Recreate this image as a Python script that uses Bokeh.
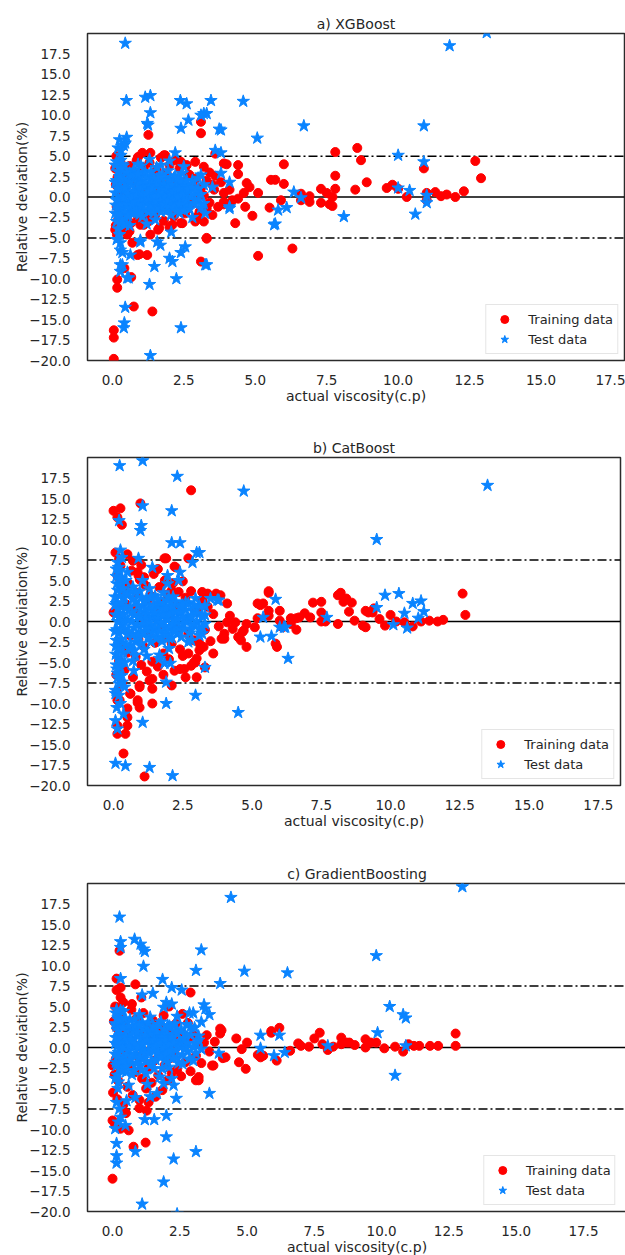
from bokeh.plotting import figure
from bokeh.layouts import column
from bokeh.models import Span, Legend, LegendItem, FixedTicker, Range1d, PrintfTickFormatter
from bokeh.embed import file_html
from bokeh.resources import INLINE

# ---------------- data ----------------
TITLES = ["a) XGBoost", "b) CatBoost", "c) GradientBoosting"]
X_LABEL = "actual viscosity(c.p)"
Y_LABEL = "Relative deviation(%)"
X_TICKS = [0.0, 2.5, 5.0, 7.5, 10.0, 12.5, 15.0, 17.5]
Y_TICKS = [-20.0, -17.5, -15.0, -12.5, -10.0, -7.5, -5.0, -2.5, 0.0,
           2.5, 5.0, 7.5, 10.0, 12.5, 15.0, 17.5]
BANDS = [5.0, 7.5, 7.5]
LEGEND_LABELS = ["Training data", "Test data"]

# a) XGBoost : training (x, deviation)
xgb_train = [
    (0.05, -19.8), (0.05, -17.2), (0.05, -16.3), (0.17, -11.1), (0.17, -10.1), (0.75, -13.4),
    (1.4, -14.0), (0.66, -9.8), (0.42, -8.7), (0.88, -7.1), (1.22, -7.1), (0.95, -7.0),
    (0.7, -5.6), (3.1, -7.9), (3.3, -5.1), (5.1, -7.2), (6.3, -6.3), (4.3, -3.2), (4.9, -2.3),
    (2.9, -3.0), (2.4, -3.2), (1.26, 7.6), (3.1, 9.2), (3.1, 7.8), (1.05, 5.4), (1.33, 5.4),
    (1.85, 5.1), (2.4, 4.3), (0.77, 2.9), (0.94, 3.0), (0.28, 4.3), (0.1, 3.5), (0.35, 0.0),
    (0.38, -3.8), (0.1, -4.0), (0.52, -4.6), (0.98, -3.4), (1.1, -3.4), (1.33, -4.6),
    (1.64, -3.8), (2.1, -3.4), (2.45, -3.2), (2.97, -2.4), (3.2, -1.6), (3.56, 0.9), (3.9, 0.5),
    (4.1, 0.9), (1.2, -2.3), (2.9, -2.8), (3.2, 3.7), (2.7, 2.7), (3.9, 4.1), (4.0, 4.0),
    (4.4, 3.9), (4.4, 2.8), (3.6, 5.3), (4.7, 1.7), (4.8, 1.2), (4.6, 0.5), (4.4, -0.2),
    (4.65, -1.2), (4.2, -0.4), (3.9, -0.6), (3.7, -1.2), (3.3, -1.4), (3.3, -5.0),
    (5.1, 0.5), (5.5, -1.3), (5.9, -0.4), (5.55, 2.1), (5.7, 2.1), (6.0, 1.6), (6.0, 4.0),
    (6.6, -0.4), (6.9, -0.6), (7.3, -0.7), (7.7, -1.1), (7.3, 1.0), (7.5, 0.5), (7.7, 0.0),
    (7.8, 1.0), (7.8, 2.6), (7.8, 5.5), (8.57, 6.0), (8.7, 4.5), (8.9, 1.8), (8.5, 0.9),
    (9.6, 1.1), (9.8, 1.5), (10.3, 0.0), (10.9, 3.5), (11.0, 0.5), (11.3, 0.6), (11.5, 0.1),
    (11.7, 0.3), (12.0, 0.0), (12.3, 0.7), (12.7, 4.4), (12.9, 2.3), (6.6, 0.4), (6.9, 0.1),
    (7.6, -0.9), (10.0, 1.0), (11.0, -0.4),
    (0.12, 1.5), (0.15, -1.2), (0.18, 2.4), (0.2, -2.8), (0.22, 0.6), (0.25, -0.4), (0.3, 3.2),
    (0.32, -1.8), (0.4, 1.0), (0.45, -2.5), (0.5, 2.2), (0.55, -0.9), (0.6, 3.8), (0.65, -3.2),
    (0.7, 0.3), (0.75, 1.8), (0.8, -1.5), (0.85, 4.5), (0.9, -2.6), (0.95, 0.9), (1.0, 2.8),
    (1.05, -0.5), (1.1, 3.6), (1.15, -1.9), (1.2, 1.2), (1.25, -3.0), (1.3, 4.2), (1.35, 0.2),
    (1.4, -1.1), (1.45, 2.5), (1.5, -2.2), (1.55, 3.3), (1.6, 0.7), (1.65, -0.8), (1.7, 4.8),
    (1.75, 1.6), (1.8, -2.9), (1.85, 0.4), (1.9, 2.9), (1.95, -1.6), (2.0, 3.9), (2.05, -0.2),
    (2.1, 1.4), (2.15, -2.4), (2.2, 2.1), (2.25, 0.8), (2.3, -1.3), (2.35, 3.5), (2.4, -0.6),
    (2.5, 1.9), (2.55, -2.0), (2.6, 0.5), (2.65, 2.8), (2.7, -1.0), (2.8, 1.3), (2.85, -0.3),
    (2.9, 2.2), (3.0, 0.6), (3.05, -1.8), (3.1, 1.1), (3.2, 0.2), (3.3, 2.0), (3.4, -0.7),
    (3.5, 1.5), (0.12, -3.5), (0.14, 5.0), (0.16, -4.6), (0.2, 4.0), (0.28, -3.9), (0.6, -4.2),
    (0.9, 4.9), (1.6, -4.0), (2.2, 4.5), (2.0, -3.7), (1.8, 5.1), (2.6, 3.9), (2.9, 4.3),
    (3.2, -3.0), (3.5, -2.2), (3.6, 2.6), (3.8, 1.8), (3.9, -0.9), (3.4, 3.0),
]
# a) XGBoost : test (scattered points)
xgb_test = [
    (0.45, 18.8), (0.49, 11.8), (1.15, 12.2), (1.33, 12.4), (1.33, 10.3), (1.25, 8.8), (0.5, 7.3),
    (0.45, 6.6), (2.38, 11.8), (2.6, 11.4), (3.2, 10.2), (3.3, 10.2), (3.45, 11.8), (2.66, 9.4),
    (2.4, 8.4), (3.74, 8.3), (3.6, 5.7), (3.8, 5.4), (2.2, 5.4), (4.58, 11.7), (5.07, 7.2),
    (6.7, 8.7), (10.9, 8.7), (11.8, 18.5), (13.1, 20.1), (10.0, 5.1), (10.9, 4.3), (10.0, 1.1),
    (10.4, 0.8), (11.0, 0.2), (11.0, -0.7), (8.1, -2.4), (10.6, -2.1), (5.7, -3.3), (5.8, -1.6),
    (6.1, -1.3), (4.1, -1.4), (6.35, 0.6), (6.6, -0.1), (3.3, -8.3), (2.55, -6.1), (2.4, -6.8),
    (2.0, -7.5), (2.1, -7.9), (2.24, -10.0), (1.47, -8.5), (1.3, -10.7), (2.4, -16.0),
    (1.33, -19.4), (0.45, -13.5), (0.42, -15.4), (0.4, -16.0), (0.57, -9.9), (0.35, -8.3),
    (0.28, -9.1), (0.63, -7.1), (0.28, -6.5), (1.68, -5.9), (1.57, -5.5), (0.98, -5.5),
    (2.06, -4.3), (0.98, -5.3), (0.28, -5.6), (0.52, -9.9), (0.28, -8.3), (3.1, 10.0),
    (3.8, 8.2), (1.22, 9.0), (0.3, 4.5), (0.4, 6.3), (0.3, 5.7), (4.1, 1.8), (3.8, 2.9),
    (3.5, 1.2), (3.1, 2.7), (3.25, -2.0), (4.1, -1.2), (3.25, -8.3), (5.66, -3.4),
    (0.15, 4.3), (0.2, -3.9), (0.3, 5.1), (0.25, -4.6), (0.6, -3.5), (0.9, 4.0), (1.2, -3.3),
    (1.0, 3.8), (1.7, 3.9), (2.5, 3.7), (2.8, -2.5), (1.5, -2.8), (2.0, 4.4), (1.3, 4.6),
    (0.45, -3.4), (0.35, 4.0), (0.2, 6.0), (0.25, 7.0), (0.15, -5.2), (0.35, -6.8),
]
# a) XGBoost : test (dense core)
xgb_test_core = [
    (0.1, 0.5), (0.12, -1.0), (0.15, 2.0), (0.18, -2.2), (0.2, 3.1), (0.22, -0.3), (0.25, 1.2),
    (0.28, -3.2), (0.3, 0.0), (0.32, 2.6), (0.35, -1.5), (0.38, 3.8), (0.4, 0.8), (0.45, -2.7),
    (0.5, 1.6), (0.55, -0.6), (0.6, 2.9), (0.65, -1.9), (0.7, 0.4), (0.75, 3.3), (0.8, -0.2),
    (0.85, 1.9), (0.9, -1.2), (0.95, 2.4), (1.0, 0.1), (1.05, -2.4), (1.1, 1.3), (1.15, 3.0),
    (1.2, -0.7), (1.25, 0.9), (1.3, -1.6), (1.35, 2.2), (1.4, 0.3), (1.45, -0.9), (1.5, 1.7),
    (1.55, 3.6), (1.6, -0.4), (1.65, 1.1), (1.7, -1.8), (1.75, 2.7), (1.8, 0.2), (1.85, -0.8),
    (1.9, 1.5), (1.95, 3.2), (2.0, -0.3), (2.05, 0.9), (2.1, -1.4), (2.15, 2.3), (2.2, 0.1),
    (2.25, -0.6), (2.3, 1.8), (2.35, -2.0), (2.4, 0.6), (2.45, 2.9), (2.5, -0.5), (2.55, 1.2),
    (2.6, -1.1), (2.7, 0.7), (2.8, 2.0), (2.9, -0.4), (3.0, 1.0), (3.1, -1.3),
    (0.1, -2.0), (0.1, 1.8), (0.1, 3.9), (0.15, -0.4), (0.15, -3.0), (0.2, 1.0), (0.2, -1.3),
    (0.25, 2.5), (0.25, -2.1), (0.3, -0.8), (0.3, 3.5), (0.35, 1.9), (0.35, -2.9), (0.4, -0.1),
    (0.4, 2.2), (0.45, 1.1), (0.45, -1.8), (0.5, 3.0), (0.5, -0.9), (0.55, 0.4), (0.55, -2.3),
    (0.6, 1.9), (0.6, -1.4), (0.65, 0.0), (0.65, 2.6), (0.7, -1.0), (0.7, 1.5), (0.75, -2.0),
    (0.75, 0.7), (0.8, 2.7), (0.8, -0.6), (0.85, 0.3), (0.85, -1.7), (0.9, 1.4), (0.9, 2.8),
    (0.95, -0.5), (0.95, -2.1), (1.0, 0.9), (1.0, -1.0), (1.05, 2.0), (1.05, 0.5), (1.1, -1.5),
    (1.1, 0.0), (1.15, 1.8), (1.15, -0.8), (1.2, 0.4), (1.2, 2.5), (1.25, -1.8), (1.25, -0.2),
    (1.3, 1.4), (1.3, 0.7), (1.35, -1.1), (1.35, 3.1), (1.4, -0.4), (1.4, 1.0), (1.45, 2.3),
    (1.45, -1.9), (1.5, 0.1), (1.5, -0.9), (1.55, 1.3), (1.55, -0.5), (1.6, 2.0), (1.6, -1.2),
    (1.65, 0.3), (1.65, 2.6), (1.7, -0.5), (1.7, 1.0), (1.75, -1.3), (1.75, 0.5), (1.8, 1.6),
    (1.8, -0.9), (1.85, 2.4), (1.85, 0.1), (1.9, -1.7), (1.9, 0.8), (1.95, -0.4), (1.95, 1.2),
    (2.0, 2.1), (2.0, -1.0), (2.05, 0.3), (2.05, -2.2), (2.1, 1.5), (2.1, -0.2), (2.15, 0.7),
    (2.15, -1.1), (2.2, 2.6), (2.2, -0.4), (2.25, 1.1), (2.25, -1.7), (2.3, 0.0), (2.3, 2.2),
    (2.35, -0.9), (2.35, 1.0), (2.4, -1.5), (2.4, 1.9), (2.45, 0.2), (2.5, 1.4), (2.5, -1.6),
    (2.55, 0.4), (2.6, 2.0), (2.6, -0.4), (2.65, 1.0), (2.7, -1.5), (2.75, 0.1), (2.8, 1.2),
    (2.85, -0.8), (2.9, 0.6), (3.0, -0.5), (3.0, 2.3), (3.1, 0.3), (3.2, 1.5), (3.2, -0.8),
]

# b) CatBoost : training
cat_train = [
    (0.0, 13.5), (0.25, 13.8), (0.14, 12.7), (0.3, 11.8), (0.97, 14.4), (2.8, 16.0), (0.07, 8.4),
    (0.7, 7.4), (1.84, 7.7), (2.24, 6.6), (2.7, 7.7), (0.9, 5.6), (1.1, 5.4), (1.7, 4.1),
    (2.1, 3.8), (3.7, 3.4), (3.86, 3.2), (3.4, 3.4), (4.1, 2.2), (5.2, 2.2), (5.4, 2.2),
    (5.6, 3.5), (6.0, 1.3), (7.2, 2.3), (0.0, 1.1), (5.6, 3.7), (8.1, 3.2), (8.3, 2.4),
    (8.5, 1.2), (7.5, 2.4), (7.5, 1.1), (6.9, 1.0), (6.7, 0.5), (6.4, 0.4), (6.1, -0.7),
    (6.6, -1.0), (7.5, 0.0), (7.65, 0.0), (8.1, -0.3), (9.1, 1.3), (9.35, 1.1), (9.1, -0.7),
    (9.8, -0.5), (5.3, 2.0), (5.6, 1.3), (5.6, 0.7), (5.85, -2.7), (5.9, -3.1), (5.2, 0.4),
    (4.8, -0.3), (4.7, -1.1), (4.4, -0.1), (4.0, -1.5), (4.0, -2.1), (4.6, -2.3), (4.8, -3.1),
    (3.6, -3.9), (2.7, -3.9), (2.9, -5.0), (2.8, -5.4), (3.3, -5.6), (2.55, -5.8), (2.6, -6.8),
    (3.0, -6.8), (2.1, -7.8), (1.4, -7.0), (1.4, -10.0), (0.87, -9.9), (0.94, -8.0),
    (0.22, -9.6), (0.61, -8.8), (3.3, 3.2), (4.2, 0.7), (1.9, 7.7), (2.2, 6.7), (1.6, 6.4),
    (0.87, 6.0), (0.05, 1.3), (1.12, -18.9), (0.36, -16.1), (0.14, -13.7), (0.43, -13.7),
    (0.14, -12.7), (0.5, -12.7), (0.5, -10.6), (0.5, -11.7), (0.87, -9.6), (0.94, -10.5),
    (1.4, -8.2), (0.14, -9.6), (0.6, -8.8), (0.94, -7.8), (2.4, -5.8), (2.95, -5.0),
    (3.25, -3.1), (3.9, -2.1), (4.5, -1.9), (4.1, -0.1), (4.3, -0.9), (4.65, -1.3), (5.1, -0.7),
    (6.0, 0.1), (6.4, -0.3), (6.6, 0.4), (7.1, 0.5), (3.1, -2.7), (8.2, 3.5), (8.4, 2.8),
    (8.6, 2.3), (9.2, 1.1), (9.4, 1.6), (10.2, 0.0), (10.5, -0.1), (10.8, -0.6), (11.1, 0.0),
    (11.4, 0.1), (11.7, 0.0), (11.9, 0.2), (12.6, 3.4), (12.7, 0.8), (8.7, 0.1), (9.0, -0.5),
    (9.6, 0.3), (10.0, 0.8),
    (0.1, -6.5), (0.15, 5.5), (0.2, -4.8), (0.25, 6.8), (0.3, -2.9), (0.35, 3.9), (0.4, -5.9),
    (0.45, 2.1), (0.5, -3.8), (0.55, 4.6), (0.6, -1.7), (0.65, 6.2), (0.7, -6.8), (0.75, 1.3),
    (0.8, -4.3), (0.85, 3.5), (0.9, -2.2), (0.95, 5.1), (1.0, -5.3), (1.05, 0.5), (1.1, -3.1),
    (1.15, 4.4), (1.2, -6.1), (1.25, 2.7), (1.3, -1.2), (1.35, 3.1), (1.4, -4.9), (1.45, 5.8),
    (1.5, -2.6), (1.55, 1.7), (1.6, -5.5), (1.65, 4.2), (1.7, -0.8), (1.75, 2.4), (1.8, -3.9),
    (1.85, 5.0), (1.9, -1.9), (1.95, 3.3), (2.0, -4.6), (2.05, 1.0), (2.1, -2.7), (2.15, 4.7),
    (2.2, -6.0), (2.25, 2.0), (2.3, -0.9), (2.35, 3.6), (2.4, -3.4), (2.45, 1.5), (2.5, -4.2),
    (2.6, 2.9), (2.7, -1.5), (2.8, 3.7), (2.9, -2.3), (3.0, 1.2), (3.1, -3.5), (3.2, 2.5),
    (3.3, -1.0), (3.4, 1.8), (3.5, -2.4), (3.6, 0.9), (3.8, -0.6), (0.12, -8.5), (0.3, -7.5),
    (0.2, 7.6), (0.5, 8.2), (1.0, 6.9), (1.3, -7.2), (1.8, -6.5), (2.5, 4.9), (3.2, 3.6),
    (3.0, -4.5),
]
# b) CatBoost : test (scattered points)
cat_test = [
    (0.22, 19.0), (1.05, 19.6), (2.3, 17.7), (4.7, 15.9), (1.05, 14.1), (2.1, 13.5), (0.2, 12.3),
    (1.0, 11.7), (0.97, 11.1), (2.1, 9.6), (2.4, 9.6), (3.0, 8.4), (3.1, 8.4), (2.85, 7.2),
    (0.25, 8.7), (0.9, 7.7), (1.4, 6.6), (2.4, 6.0), (1.95, 5.6), (2.35, 5.0), (1.95, 4.6),
    (1.05, 5.0), (2.96, 2.8), (3.8, 2.6), (5.85, 2.7), (9.5, 10.0), (9.5, 1.7), (9.8, 3.2),
    (5.3, -1.9), (5.7, -1.8), (5.4, 0.5), (6.0, -0.7), (6.2, -0.7), (6.3, -4.5), (7.7, 0.5),
    (3.3, -5.6), (2.96, -9.0), (1.9, -10.0), (4.5, -11.1), (1.9, -7.4), (3.5, 2.8), (3.75, 2.6),
    (3.2, -1.5), (2.8, -2.3), (2.0, -3.3), (2.05, -5.1), (1.84, -5.1), (1.66, -4.1),
    (1.66, -4.5), (0.75, -3.5), (0.78, -4.1), (0.25, -5.6), (0.32, -7.4), (0.07, -8.8),
    (0.4, -8.0), (0.14, -6.3), (0.07, -17.3), (0.43, -17.6), (1.3, -17.8), (2.13, -18.8),
    (0.07, -12.1), (0.36, -11.3), (0.14, -13.1), (1.05, -12.3), (0.73, -6.0), (0.07, -8.4),
    (2.7, -2.5), (3.1, -1.7), (6.15, -0.7), (13.5, 16.6), (10.3, 3.4), (10.8, 2.2),
    (11.1, 2.5), (11.0, 0.4), (10.6, -0.8), (10.1, -0.4), (10.5, 1.0), (11.2, 1.2),
    (0.1, -5.3), (0.15, 7.2), (0.3, -6.6), (0.5, 6.0), (0.7, -4.8), (1.2, -4.2), (0.2, -7.6),
    (0.12, -10.5), (0.25, -10.0), (0.1, 6.4), (0.3, 7.8), (0.2, -9.0),
]
# b) CatBoost : test (dense core)
cat_test_core = [
    (0.05, 2.0), (0.08, -3.0), (0.1, 5.5), (0.12, -1.0), (0.15, 3.8), (0.18, -4.5), (0.2, 0.5),
    (0.22, 6.2), (0.25, -2.2), (0.28, 1.8), (0.3, 4.6), (0.32, -0.3), (0.35, -3.8), (0.38, 2.9),
    (0.4, 0.0), (0.45, 5.0), (0.5, -1.6), (0.55, 3.4), (0.6, -2.9), (0.65, 1.1), (0.7, 4.2),
    (0.75, -0.8), (0.8, 2.4), (0.85, -2.1), (0.9, 0.7), (0.95, 3.7), (1.0, -1.3), (1.05, 1.9),
    (1.1, -3.4), (1.15, 0.3), (1.2, 2.8), (1.25, -0.5), (1.3, 4.0), (1.35, -2.5), (1.4, 1.4),
    (1.45, -1.0), (1.5, 3.1), (1.55, 0.1), (1.6, -1.9), (1.65, 2.2), (1.7, -0.4), (1.75, 1.0),
    (1.8, 3.5), (1.85, -1.2), (1.9, 0.6), (1.95, 2.6), (2.0, -2.0), (2.05, 1.3), (2.1, -0.6),
    (2.15, 3.0), (2.2, 0.2), (2.3, -1.5), (2.4, 1.7), (2.5, -0.3), (2.6, 2.3), (2.7, 0.4),
    (2.8, -1.0), (2.9, 1.2), (3.0, 0.0), (3.1, 1.9), (3.2, -0.7), (3.3, 0.8),
    (0.05, -1.2), (0.05, 3.0), (0.08, 0.8), (0.08, -4.0), (0.1, -2.3), (0.1, 2.2), (0.12, 4.6),
    (0.12, -5.8), (0.15, 0.0), (0.15, -6.8), (0.18, 1.5), (0.18, 6.6), (0.2, -1.4), (0.2, -3.3),
    (0.22, 3.1), (0.25, 0.6), (0.25, -4.8), (0.28, 5.3), (0.3, -1.0), (0.3, 2.3), (0.33, -2.6),
    (0.35, 0.9), (0.35, 4.0), (0.4, -0.9), (0.4, -5.0), (0.45, 1.7), (0.45, -2.8), (0.5, 0.2),
    (0.5, 3.3), (0.55, -1.2), (0.6, 1.8), (0.6, -3.4), (0.65, 0.0), (0.7, 2.7), (0.7, -1.6),
    (0.75, 0.8), (0.8, -2.5), (0.8, 3.6), (0.85, -0.4), (0.9, 1.9), (0.9, -1.6), (0.95, 0.5),
    (1.0, 2.9), (1.0, -2.7), (1.05, -0.3), (1.1, 1.2), (1.1, -1.4), (1.15, 2.4), (1.2, -0.8),
    (1.2, 0.9), (1.25, -2.0), (1.3, 1.6), (1.3, -0.1), (1.35, 3.0), (1.4, -1.3), (1.4, 0.6),
    (1.45, 2.0), (1.5, -0.7), (1.5, 1.1), (1.55, -2.1), (1.6, 0.4), (1.6, 2.7), (1.65, -1.2),
    (1.7, 1.6), (1.7, -0.1), (1.75, -2.4), (1.8, 0.8), (1.8, 2.2), (1.85, -0.6), (1.9, 1.7),
    (1.9, -1.6), (1.95, 0.2), (2.0, 2.9), (2.0, -0.9), (2.05, 0.9), (2.1, -2.0), (2.1, 1.9),
    (2.15, -0.3), (2.2, 1.2), (2.2, -1.2), (2.25, 2.4), (2.3, 0.3), (2.35, -0.8), (2.4, 1.1),
    (2.45, -1.9), (2.5, 2.0), (2.5, 0.6), (2.55, -0.9), (2.6, 1.4), (2.65, -0.1), (2.7, 2.2),
    (2.75, -1.4), (2.8, 0.7), (2.9, -0.4), (2.9, 2.0), (3.0, 1.0), (3.1, -0.9), (3.2, 0.6),
    (3.3, 1.9), (3.3, -0.3),
]

# c) GradientBoosting : training
gb_train = [
    (0.26, 11.8), (0.15, 8.4), (0.3, 7.3), (0.85, 7.7), (2.9, 6.7), (0.3, 6.1), (1.07, 6.1),
    (0.72, 5.3), (4.05, 2.1), (5.9, 1.8), (6.2, 2.4), (4.6, 1.1), (5.0, 0.6), (4.0, 2.3),
    (4.0, 1.7), (5.9, 2.0), (7.7, 1.8), (7.5, 1.1), (8.5, 1.2), (8.8, 0.6), (9.4, 1.0),
    (9.6, 0.6), (9.4, 0.0), (10.1, -0.1), (6.1, -1.6), (5.5, -1.2), (5.6, -1.0), (4.7, -1.8),
    (4.95, -2.6), (4.1, -1.3), (4.8, -0.2), (3.7, -2.2), (3.2, -3.6), (3.2, -4.0), (3.5, 1.5),
    (7.0, 0.2), (8.0, -0.3), (6.6, -0.4), (11.2, 0.2), (11.4, 0.2), (11.8, 0.2), (12.1, 0.2),
    (12.75, 0.2), (9.8, 0.6), (8.7, 0.6), (8.5, 0.4), (12.75, 1.7), (0.0, -16.0), (0.78, -12.1),
    (1.23, -11.6), (0.6, -10.1), (0.3, -9.9), (0.0, -8.9), (1.27, -7.7), (1.34, -6.7),
    (3.1, -4.0), (3.75, -2.2), (4.2, -1.2), (5.4, -0.9), (0.0, -2.2), (7.3, 0.1), (7.8, 0.4),
    (9.0, 0.3), (10.5, 0.1), (11.0, 0.4), (6.9, 0.5), (8.2, 0.1), (10.8, -0.5),
    (0.02, -5.5), (0.05, 3.2), (0.08, -3.3), (0.1, 5.0), (0.12, -1.4), (0.15, 2.4), (0.18, -6.3),
    (0.2, 0.8), (0.22, -4.1), (0.25, 4.0), (0.3, -2.6), (0.35, 1.6), (0.4, -7.0), (0.45, 3.0),
    (0.5, -0.7), (0.55, -4.8), (0.6, 2.1), (0.65, -2.0), (0.7, 4.6), (0.75, -5.8), (0.8, 0.3),
    (0.85, -3.0), (0.9, 3.6), (0.95, -1.1), (1.0, -6.4), (1.05, 1.9), (1.1, -3.8), (1.15, 4.2),
    (1.2, -0.5), (1.25, -5.0), (1.3, 2.7), (1.35, -2.4), (1.4, 0.9), (1.45, -4.3), (1.5, 3.3),
    (1.55, -1.6), (1.6, -6.0), (1.65, 1.4), (1.7, -3.4), (1.75, 2.5), (1.8, -0.8), (1.85, -5.2),
    (1.9, 3.9), (1.95, -2.1), (2.0, 0.6), (2.05, -4.0), (2.1, 2.0), (2.15, -1.3), (2.2, -3.1),
    (2.25, 1.1), (2.3, -0.4), (2.35, 2.9), (2.4, -2.7), (2.5, 0.5), (2.55, -3.5), (2.6, 1.7),
    (2.7, -1.8), (2.8, 0.9), (2.9, -2.9), (3.0, 1.5), (3.1, -1.0), (3.2, 0.4), (3.3, -1.9),
    (3.4, 0.6), (3.6, -0.5), (3.8, 0.7), (0.1, -9.5), (0.15, 7.0), (0.5, -8.0), (0.4, 5.5),
    (1.0, -7.4), (2.1, 5.0), (2.6, 4.1), (2.8, 3.0),
]
# c) GradientBoosting : test (scattered points)
gb_test = [
    (0.26, 15.9), (0.3, 12.9), (0.3, 12.2), (0.82, 13.2), (1.04, 12.6), (1.2, 11.7), (1.15, 12.0),
    (1.15, 9.9), (0.3, 8.4), (1.86, 8.3), (2.2, 7.3), (2.57, 7.0), (1.5, 6.6), (1.1, 6.4),
    (2.0, 5.5), (2.2, 5.3), (1.9, 4.9), (2.86, 4.2), (3.0, 4.2), (3.4, 5.2), (3.45, 4.7),
    (3.6, 4.0), (3.3, 11.9), (3.1, 9.4), (4.0, 7.8), (4.4, 18.3), (4.9, 9.3), (6.5, 9.1),
    (5.5, 1.5), (6.2, 1.5), (0.3, 4.5), (0.22, 1.2), (9.8, 11.2), (13.0, 19.6), (10.3, 5.0),
    (10.8, 4.0), (10.9, 3.6), (9.85, 1.8), (8.0, 0.2), (10.9, 0.2), (10.5, -3.4), (1.1, -19.1),
    (1.9, -16.4), (2.27, -13.6), (3.1, -12.7), (2.0, -10.9), (2.0, -8.3), (1.55, -8.8),
    (1.2, -8.8), (0.85, -12.7), (0.15, -14.1), (0.15, -13.2), (0.15, -11.7), (0.48, -9.5),
    (0.22, -9.1), (0.1, -9.9), (2.37, -6.2), (3.6, -5.6), (1.65, -5.6), (1.4, -6.0),
    (2.27, -4.6), (1.9, -4.4), (0.85, -6.1), (0.15, -6.7), (0.52, -6.5), (6.0, -1.0),
    (3.95, -0.7), (5.5, -0.1), (6.4, -0.6), (2.4, -20.3),
    (0.12, 4.2), (0.2, -5.0), (0.4, 4.4), (0.6, -4.6), (1.0, 4.0), (1.3, -4.5), (2.4, 3.8),
    (2.2, -3.8), (0.25, -7.5), (0.3, -8.5),
]
# c) GradientBoosting : test (dense core)
gb_test_core = [
    (0.1, 0.5), (0.12, -1.8), (0.15, 2.6), (0.18, -3.4), (0.2, 3.6), (0.22, -0.6), (0.25, 1.4),
    (0.28, -2.6), (0.3, -0.1), (0.35, 2.9), (0.4, -1.2), (0.45, 0.6), (0.5, -3.0), (0.55, 2.0),
    (0.6, -0.4), (0.65, 3.4), (0.7, -1.9), (0.75, 0.9), (0.8, -2.8), (0.85, 2.5), (0.9, -0.9),
    (0.95, 1.5), (1.0, -2.2), (1.05, 0.2), (1.1, 3.0), (1.15, -1.4), (1.2, 1.0), (1.25, -3.2),
    (1.3, 2.1), (1.35, -0.3), (1.4, 3.7), (1.45, -1.7), (1.5, 0.7), (1.55, -2.6), (1.6, 2.3),
    (1.65, -0.8), (1.7, 1.2), (1.75, -3.6), (1.8, 3.1), (1.85, -0.2), (1.9, 1.8), (1.95, -1.5),
    (2.0, 0.4), (2.05, 2.7), (2.1, -2.4), (2.15, 1.0), (2.2, -0.7), (2.3, 2.0), (2.4, -1.2),
    (2.5, 0.8), (2.6, -2.0), (2.7, 1.6), (2.8, -0.5), (2.9, 2.5), (3.0, -1.6), (3.1, 0.5),
    (3.2, 1.4), (0.6, 1.0), (1.1, -0.4), (1.6, 0.3), (2.1, 0.0), (0.8, 0.1), (1.4, 1.6),
    (1.9, -0.9), (2.6, 0.2),
    (0.1, -0.8), (0.1, 2.9), (0.1, -3.8), (0.12, 1.2), (0.15, -2.2), (0.15, 4.6), (0.18, 0.2),
    (0.2, -1.1), (0.2, 2.1), (0.22, -4.2), (0.25, 0.5), (0.25, 3.3), (0.28, -1.9), (0.3, 1.6),
    (0.32, -0.3), (0.35, -2.8), (0.38, 2.4), (0.4, 0.1), (0.42, -1.6), (0.45, 3.5), (0.5, 1.3),
    (0.5, -2.2), (0.55, -0.8), (0.6, 2.6), (0.62, 0.2), (0.65, -1.5), (0.7, 1.0), (0.72, -3.3),
    (0.75, 2.0), (0.8, -0.9), (0.82, 3.4), (0.85, 0.5), (0.9, -1.9), (0.92, 1.9), (0.95, -0.1),
    (1.0, 2.7), (1.02, -1.2), (1.05, 1.1), (1.1, -2.7), (1.12, 0.4), (1.15, 2.2), (1.2, -0.6),
    (1.22, 1.5), (1.25, -1.7), (1.3, 0.9), (1.32, 3.0), (1.35, -0.7), (1.4, 0.3), (1.42, -2.1),
    (1.45, 1.9), (1.5, -0.3), (1.52, 2.6), (1.55, 0.9), (1.6, -1.5), (1.62, 0.2), (1.65, 1.7),
    (1.7, -0.6), (1.72, 2.8), (1.75, 0.6), (1.8, -1.2), (1.82, 1.3), (1.85, -2.6), (1.9, 0.0),
    (1.92, 2.2), (1.95, 0.9), (2.0, -0.8), (2.02, 1.6), (2.05, -1.8), (2.1, 0.4), (2.12, 2.6),
    (2.15, -0.4), (2.2, 1.3), (2.25, -1.3), (2.3, 0.6), (2.32, 2.9), (2.35, -0.2), (2.4, 1.7),
    (2.45, -1.9), (2.5, 0.1), (2.55, 2.2), (2.6, -0.9), (2.65, 1.1), (2.7, -0.1), (2.75, 2.8),
    (2.8, 0.5), (2.85, -1.4), (2.9, 1.5), (3.0, 0.1), (3.05, 2.4), (3.1, -0.7), (3.2, 0.9),
    (3.3, -0.2), (3.3, 3.1),
]

TRAIN = [xgb_train, cat_train, gb_train]
TEST = [xgb_test + xgb_test_core, cat_test + cat_test_core, gb_test + gb_test_core]

# ---------------- layout / style ----------------
X_RANGES = [(-0.87, 17.92), (-0.94, 18.3), (-0.93, 19.1)]
FRAME_LEFT = [87, 87, 84]
FRAME_W = [537, 533, 539]
BORDER_TOP = [33, 42, 35]
FRAME_H = [327, 328, 328]
BORDER_BOTTOM = [55, 63, 44]
FONT = "DejaVu Sans"
TXT = "#262626"
RED = "#FF0000"
BLUE = "#0A84FF"


def lab(v):
    s = f"{abs(v):.1f}"
    return ("\u2212" + s) if v < 0 else s


def panel(i):
    left = FRAME_LEFT[i]
    right = 625 - left - FRAME_W[i]
    p = figure(frame_width=FRAME_W[i], frame_height=FRAME_H[i],
               min_border_left=left, min_border_right=right,
               min_border_top=BORDER_TOP[i], min_border_bottom=BORDER_BOTTOM[i],
               x_range=Range1d(*X_RANGES[i]), y_range=Range1d(-20, 20),
               output_backend="svg", toolbar_location=None, title=TITLES[i])
    p.title.align = "center"
    p.title.text_font = FONT
    p.title.text_font_size = "14px"
    p.title.text_font_style = "normal"
    p.title.text_color = TXT
    p.title.standoff = 3

    p.grid.grid_line_color = None
    p.outline_line_color = "#2b2b2b"
    p.outline_line_width = 1.5
    p.background_fill_color = "white"
    p.border_fill_color = "white"

    for ax, ticks in ((p.xaxis, X_TICKS), (p.yaxis, Y_TICKS)):
        ax.ticker = FixedTicker(ticks=ticks)
        ax.formatter = PrintfTickFormatter(format="%.1f")
        ax.major_label_overrides = {t: lab(t) for t in ticks if t < 0}
        ax.major_tick_line_color = None
        ax.minor_tick_line_color = None
        ax.axis_line_color = None
        ax.major_label_text_font = FONT
        ax.major_label_text_font_size = "13.5px"
        ax.major_label_text_color = TXT
        ax.axis_label_text_font = FONT
        ax.axis_label_text_font_size = "14px"
        ax.axis_label_text_font_style = "normal"
        ax.axis_label_text_color = TXT
    p.xaxis.axis_label = X_LABEL
    p.yaxis.axis_label = Y_LABEL
    p.xaxis.major_label_standoff = 8
    p.xaxis.axis_label_standoff = 0
    p.yaxis.major_label_standoff = 11
    p.yaxis.axis_label_standoff = -4

    p.add_layout(Span(location=0, dimension="width", line_color="black",
                      line_width=1.5, level="underlay"))
    for s in (BANDS[i], -BANDS[i]):
        p.add_layout(Span(location=s, dimension="width", line_color="black",
                          line_width=1.5, line_dash="9 3 2 3", level="underlay"))

    tr = TRAIN[i]
    te = TEST[i]
    r1 = p.scatter([a for a, b in tr], [b for a, b in tr], marker="circle",
                   size=9, fill_color=RED, line_color=RED)
    r2 = p.scatter([a for a, b in te], [b for a, b in te], marker="star",
                   size=13, fill_color=BLUE, line_color=BLUE)

    leg = Legend(items=[LegendItem(label=LEGEND_LABELS[0], renderers=[r1]),
                        LegendItem(label=LEGEND_LABELS[1], renderers=[r2])],
                 location="bottom_right")
    leg.border_line_color = "#cccccc"
    leg.border_line_width = 1
    leg.background_fill_color = "white"
    leg.background_fill_alpha = 0.8
    leg.label_text_font = FONT
    leg.label_text_font_size = "13px"
    leg.label_text_color = TXT
    leg.glyph_width = 28
    leg.glyph_height = 20
    leg.label_height = 19
    leg.spacing = 0
    leg.padding = 4
    leg.margin = 6
    leg.label_standoff = 10
    p.add_layout(leg)
    return p


layout = column(panel(0), panel(1), panel(2), spacing=0)
open("out.html", "w").write(file_html(layout, INLINE))
